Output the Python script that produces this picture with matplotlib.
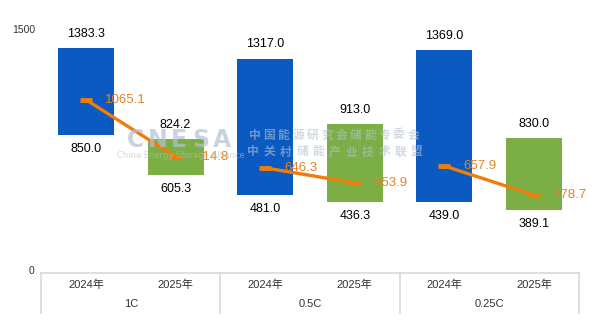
import matplotlib
matplotlib.use("Agg")
import matplotlib.pyplot as plt
import matplotlib.transforms as mtransforms

plt.rcParams['font.family'] = ['Liberation Sans', 'Noto Sans CJK SC', 'DejaVu Sans']

# C-rate groups and years
groups = ["1C", "0.5C", "0.25C"]
years = ["2024年", "2025年"]

# price ranges: (low, high) and average per group
low_2024 = [850.0, 481.0, 439.0]
high_2024 = [1383.3, 1317.0, 1369.0]
avg_2024 = [1065.1, 646.3, 657.9]
low_2025 = [605.3, 436.3, 389.1]
high_2025 = [824.2, 913.0, 830.0]
avg_2025 = [714.8, 553.9, 478.7]

BLUE = "#0A5AC2"
GREEN = "#7BAF45"
ORANGE = "#EE7E0C"
ORANGE_TXT = "#E0852A"
GRID = "#D9D9D9"
TXT = "#333333"

W, H = 600, 327
fig = plt.figure(figsize=(W / 100, H / 100), dpi=100)

# plot area (pixels): bars centred at 86 + 89.6*i, zero at y=273, 1500 at y=29
ax = fig.add_axes([41.2 / W, (H - 273) / H, 537.6 / W, 244 / H])
ax.set_xlim(-0.5, 5.5)
ax.set_ylim(0, 1500)
ax.axis("off")

bar_w = 0.625
for g in range(len(groups)):
    x24, x25 = 2 * g, 2 * g + 1
    for x, lo, hi, col in ((x24, low_2024[g], high_2024[g], BLUE),
                           (x25, low_2025[g], high_2025[g], GREEN)):
        ax.bar(x, hi - lo, bottom=lo, width=bar_w, color=col, zorder=2)
        ax.annotate(f"{hi:.1f}", (x, hi), xytext=(0, 6), textcoords="offset points",
                    ha="center", va="bottom", fontsize=9, color="black")
        ax.annotate(f"{lo:.1f}", (x, lo), xytext=(0, -6), textcoords="offset points",
                    ha="center", va="top", fontsize=9, color="black")
    # average line inside each group
    ax.plot([x24, x25], [avg_2024[g], avg_2025[g]], color=ORANGE, lw=2.4,
            marker="_", ms=9, mew=3.5, zorder=6, solid_capstyle="butt")
    for x, v in ((x24, avg_2024[g]), (x25, avg_2025[g])):
        ax.annotate(f"{v:.1f}", (x, v), xytext=(14, 0), textcoords="offset points",
                    ha="left", va="center", fontsize=9.5, color=ORANGE_TXT, zorder=7)

# value axis end labels
fig.text(35 / W, 1 - 30 / H, "1500", ha="right", va="center", fontsize=7.5, color=TXT)
fig.text(34 / W, 1 - 271 / H, "0", ha="right", va="center", fontsize=7.5, color=TXT)

# two-level category axis below the zero line
trans = mtransforms.blended_transform_factory(ax.transData, ax.transAxes)
px = 1 / 244
ax.plot([-0.5, 5.5], [0, 0], color=GRID, lw=1.2, transform=trans, clip_on=False)
for xb in (-0.5, 1.5, 3.5, 5.5):
    ax.plot([xb, xb], [0, -40 * px], color=GRID, lw=1.2, transform=trans, clip_on=False)
for i in range(6):
    ax.text(i, -12 * px, years[i % 2], ha="center", va="center", fontsize=8,
            color=TXT, transform=trans)
for g, name in enumerate(groups):
    ax.text(2 * g + 0.5, -31 * px, name, ha="center", va="center", fontsize=8,
            color=TXT, transform=trans)

# faint watermark
wm = "#B4C0D2"
for k, ch in enumerate("CNESA"):
    fig.text((125 + 21.6 * (k + 0.5)) / W, 1 - 140 / H, ch, fontsize=17, fontweight="bold",
             color=wm, alpha=0.7, family="DejaVu Sans", ha="center", va="center", zorder=5)
fig.text(181 / W, 1 - 155.5 / H, "China Energy Storage Alliance", fontsize=6, color=wm,
         alpha=0.6, family="DejaVu Sans", ha="center", va="center", zorder=5)
for line, y0, x0, step in (("中国能源研究会储能专委会", 135, 255, 14.4),
                           ("中关村储能产业技术联盟", 152, 253, 16.4)):
    for k, ch in enumerate(line):
        fig.text((x0 + step * k) / W, 1 - y0 / H, ch, fontsize=8.5, fontweight="bold",
                 color=wm, alpha=0.6, family="Noto Sans CJK SC",
                 ha="center", va="center", zorder=5)

fig.savefig("out.png", dpi=100)
